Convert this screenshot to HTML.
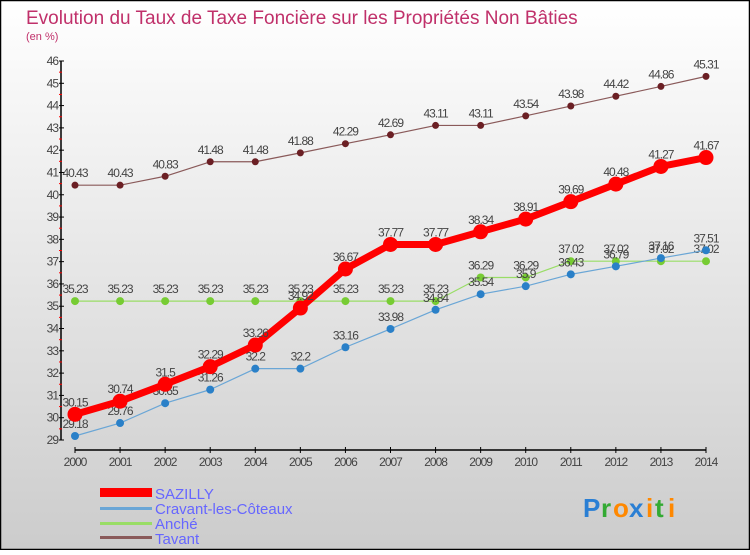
<!DOCTYPE html>
<html><head><meta charset="utf-8"><style>
html,body{margin:0;padding:0;}
body{width:750px;height:550px;overflow:hidden;font-family:"Liberation Sans",sans-serif;}
svg text{font-family:"Liberation Sans",sans-serif;}
</style></head><body>
<svg id="chart" width="750" height="550" xmlns="http://www.w3.org/2000/svg">
<defs><linearGradient id="bg" x1="0" y1="0" x2="0" y2="1"><stop offset="0" stop-color="#ffffff"/><stop offset="1" stop-color="#cccccc"/></linearGradient></defs>
<rect x="0.5" y="0.5" width="749" height="549" fill="url(#bg)" stroke="#000" stroke-width="1.5"/>
<text x="26" y="24" font-size="19" fill="#c0306a">Evolution du Taux de Taxe Foncière sur les Propriétés Non Bâties</text>
<text x="26" y="40" font-size="11" fill="#c0306a">(en %)</text>
<g id="axes"></g>
<g id="series"></g>
<g id="legend">
<rect x="100" y="488" width="52" height="9" fill="#ff0000"/>
<text x="155" y="499" font-size="15" fill="#6666ff">SAZILLY</text>
<rect x="100" y="507" width="52" height="3" fill="#6aa6d6"/>
<text x="155" y="514" font-size="15" fill="#6666ff">Cravant-les-Côteaux</text>
<rect x="100" y="522" width="52" height="3" fill="#99dd66"/>
<text x="155" y="529" font-size="15" fill="#6666ff">Anché</text>
<rect x="100" y="536" width="52" height="3" fill="#8a5a5a"/>
<text x="155" y="544" font-size="15" fill="#6666ff">Tavant</text>
</g>
<g font-size="26" font-weight="bold">
<text x="583" y="517" fill="#2a7fd4">P</text><text x="601" y="517" fill="#33aa33">r</text><text x="613" y="517" fill="#ff8800">o</text><text x="629" y="517" fill="#2a7fd4">x</text><text x="646" y="517" fill="#ff8800">i</text><text x="655" y="517" fill="#33aa33">t</text><text x="668" y="517" fill="#ff8800">i</text>
</g>
</svg>
<script>
const years=[2000,2001,2002,2003,2004,2005,2006,2007,2008,2009,2010,2011,2012,2013,2014];
const yTicks=[29,30,31,32,33,34,35,36,37,38,39,40,41,42,43,44,45,46];
const sazilly=[30.15,30.74,31.5,32.29,33.26,34.92,36.67,37.77,37.77,38.34,38.91,39.69,40.48,41.27,41.67];
const cravant=[29.18,29.76,30.65,31.26,32.2,32.2,33.16,33.98,34.84,35.54,35.9,36.43,36.79,37.16,37.51];
const anche=[35.23,35.23,35.23,35.23,35.23,35.23,35.23,35.23,35.23,36.29,36.29,37.02,37.02,37.02,37.02];
const tavant=[40.43,40.43,40.83,41.48,41.48,41.88,42.29,42.69,43.11,43.11,43.54,43.98,44.42,44.86,45.31];
const NS='http://www.w3.org/2000/svg';
const x0=75,x1=706,yTop=61,yBot=440,vMin=29,vMax=46;
function X(i){return x0+(x1-x0)*i/(years.length-1);}
function Y(v){return yBot-(v-vMin)*(yBot-yTop)/(vMax-vMin);}
function mk(tag,attrs,parent){const e=document.createElementNS(NS,tag);for(const k in attrs)e.setAttribute(k,attrs[k]);parent.appendChild(e);return e;}
const ax=document.getElementById('axes');
let e=mk('line',{x1:61,y1:yTop,x2:61,y2:yBot,stroke:'#000','stroke-width':1.5},ax);


e=mk('line',{x1:x0,y1:450,x2:x1,y2:450,stroke:'#000','stroke-width':1.5},ax);


yTicks.forEach((t,i)=>{
  mk('line',{x1:59,y1:Y(t),x2:64,y2:Y(t),stroke:'#000'},ax);
  if(i<yTicks.length-1)mk('line',{x1:59,y1:Y(t+0.5),x2:62,y2:Y(t+0.5),stroke:'#ff0000'},ax);
  const tx=mk('text',{x:58,y:Y(t)+4,'font-size':12,'text-anchor':'end',fill:'#444','letter-spacing':'-1'},ax);
  tx.textContent=t;
  
  
});
years.forEach((yr,i)=>{
  mk('line',{x1:X(i),y1:447,x2:X(i),y2:453,stroke:'#000'},ax);
  const tx=mk('text',{x:X(i),y:466,'font-size':12,'text-anchor':'middle',fill:'#444','letter-spacing':'-1'},ax);
  tx.textContent=yr;
  
  
});
const sg=document.getElementById('series');
function draw(name,vals,color,w,r,dotColor){
  const g=mk('g',{},sg);
  
  
  const p=mk('polyline',{points:vals.map((v,i)=>X(i)+','+Y(v)).join(' '),fill:'none',stroke:color,'stroke-width':w,'stroke-linejoin':'round'},g);
  
  
  vals.forEach((v,i)=>{
    const c=mk('circle',{cx:X(i),cy:Y(v),r:r,fill:dotColor},g);
    
    
    const t=mk('text',{x:X(i),y:Y(v)-8,'font-size':12,'text-anchor':'middle',fill:'#444','letter-spacing':'-1'},g);
    t.textContent=v;
    
    
  });
}
draw('tavant',tavant,'#8a5a5a',1.2,3.5,'#6b1f24');
draw('anche',anche,'#99dd66',1.2,4,'#77cc33');
draw('cravant',cravant,'#6aa6d6',1.2,4,'#2a80c8');
draw('sazilly',sazilly,'#ff0000',7,7.5,'#ff0000');
</script>
</body></html>
